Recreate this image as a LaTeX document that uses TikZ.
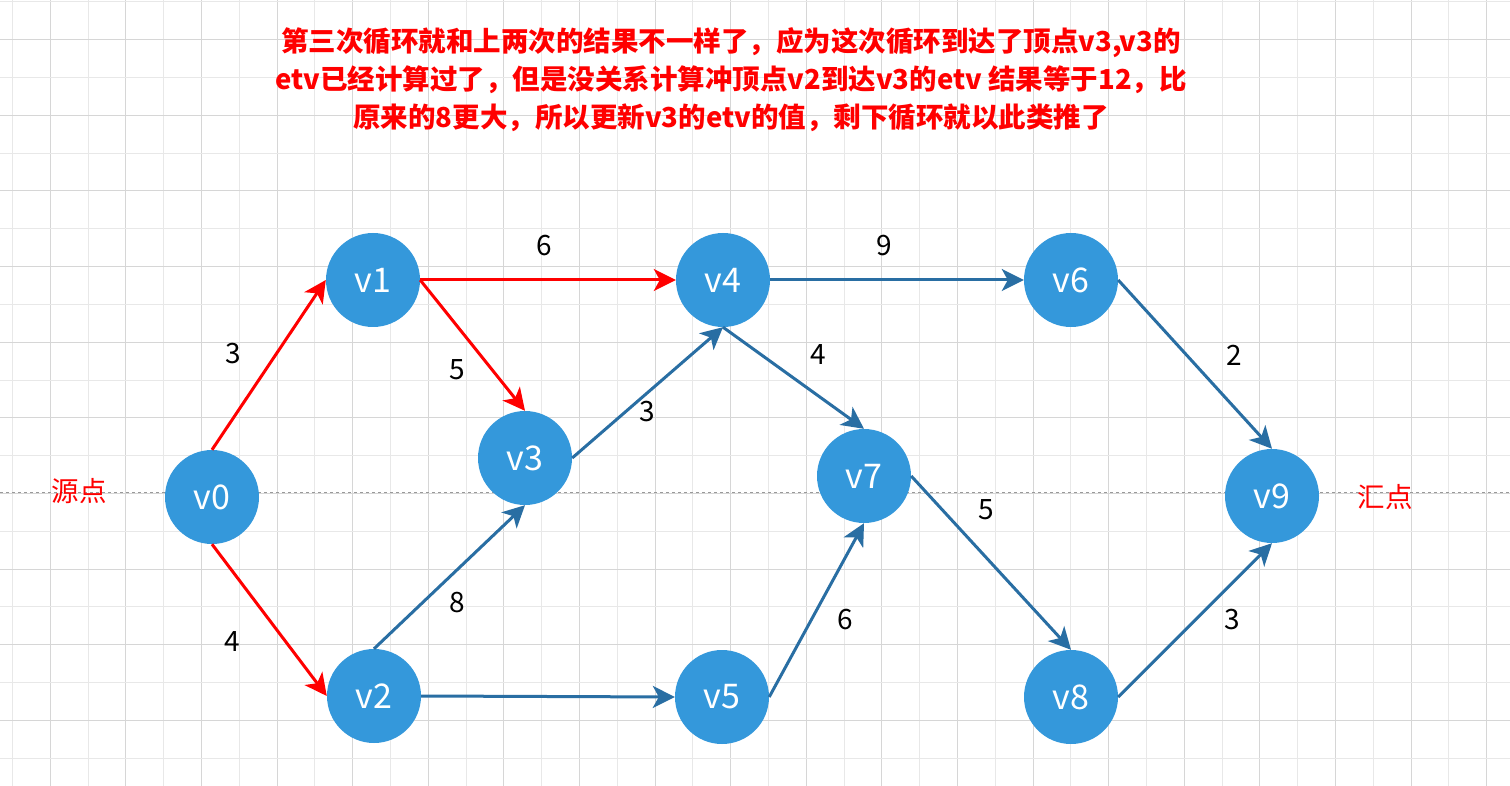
\documentclass[tikz,border=0pt]{standalone}
\usepackage{fontspec}
\setmainfont{Noto Sans CJK SC}
\usepackage{tikz}
\usetikzlibrary{arrows.meta}
\definecolor{nodeblue}{RGB}{52,152,219}
\definecolor{edgeblue}{RGB}{41,110,163}
\definecolor{hintred}{RGB}{255,0,0}
\tikzset{
  vertex/.style={circle, fill=nodeblue, minimum size=94pt, inner sep=0pt,
    text=white, font=\fontsize{34}{40}\selectfont},
  weight/.style={font=\fontsize{28}{34}\selectfont, text=black},
  redarr/.style={-{Stealth[length=22pt, width=22pt, inset=6pt]},
    line width=3pt, draw=hintred},
  bluearr/.style={-{Stealth[length=22pt, width=22pt, inset=6pt]},
    line width=3pt, draw=edgeblue},
  gridlight/.style={draw=black!9, line width=1pt},
  griddark/.style={draw=black!16, line width=1pt},
  remark/.style={text=hintred, font=\fontsize{27.5}{32}\selectfont},
}

\begin{document}
\begin{tikzpicture}[x=1pt, y=-1pt]
  \useasboundingbox (0,0) rectangle (1510,786);
  \fill[white] (0,0) rectangle (1510,786);

  % background grid
  \foreach \i in {0,...,39} {
    \pgfmathsetmacro{\gx}{12.5+37.8*\i}
    \ifodd\i
      \draw[griddark] (\gx,0) -- (\gx,786);
    \else
      \draw[gridlight] (\gx,0) -- (\gx,786);
    \fi
  }
  \foreach \j in {0,...,20} {
    \pgfmathsetmacro{\gy}{2+37.8*\j}
    \ifodd\j
      \draw[griddark] (0,\gy) -- (1510,\gy);
    \else
      \draw[gridlight] (0,\gy) -- (1510,\gy);
    \fi
  }
  \draw[black!40, dashed, line width=1pt] (0,492) -- (1510,492);

  % note on top
  \node[remark, font=\fontsize{27.5}{38}\selectfont\bfseries, align=center]
    (note) at (731,80) {%
    第三次循环就和上两次的结果不一样了，应为这次循环到达了顶点v3,v3的\\
    etv已经计算过了，但是没关系计算冲顶点v2到达v3的etv 结果等于12，比\\
    原来的8更大，所以更新v3的etv的值，剩下循环就以此类推了};

  % vertices
  \node[vertex] (v0) at (212,497) {v0};
  \node[vertex] (v1) at (373,280) {v1};
  \node[vertex] (v2) at (374,696) {v2};
  \node[vertex] (v3) at (525,458) {v3};
  \node[vertex] (v4) at (723,280) {v4};
  \node[vertex] (v5) at (722,697) {v5};
  \node[vertex] (v6) at (1071,280) {v6};
  \node[vertex] (v7) at (864,476) {v7};
  \node[vertex] (v8) at (1071,697) {v8};
  \node[vertex] (v9) at (1272,496) {v9};

  % source and sink
  \node[remark] (src) at (79,491) {源点};
  \node[remark] (snk) at (1385,497) {汇点};

  % edges
  \draw[redarr] (v0.north) -- (v1.west);
  \draw[redarr] (v0.south) -- (v2.west);
  \draw[redarr] (v1.east) -- (v4.west);
  \draw[redarr] (v1.east) -- (v3.north);
  \draw[bluearr] (v2.north) -- (v3.south);
  \draw[bluearr] (v2.east) -- (v5.west);
  \draw[bluearr] (v3.east) -- (v4.south);
  \draw[bluearr] (v4.south) -- (v7.north);
  \draw[bluearr] (v4.east) -- (v6.west);
  \draw[bluearr] (v5.east) -- (v7.south);
  \draw[bluearr] (v6.east) -- (v9.north);
  \draw[bluearr] (v7.east) -- (v8.north);
  \draw[bluearr] (v8.east) -- (v9.south);

  % weights
  \node[weight] (w01) at (233,354) {3};
  \node[weight] (w02) at (232,642) {4};
  \node[weight] (w13) at (457,370) {5};
  \node[weight] (w14) at (544,246) {6};
  \node[weight] (w23) at (457,603) {8};
  \node[weight] (w34) at (647,412) {3};
  \node[weight] (w46) at (884,246) {9};
  \node[weight] (w47) at (818,355) {4};
  \node[weight] (w57) at (845,620) {6};
  \node[weight] (w69) at (1234,355) {2};
  \node[weight] (w78) at (986,510) {5};
  \node[weight] (w89) at (1232,620) {3};
\end{tikzpicture}
\end{document}
